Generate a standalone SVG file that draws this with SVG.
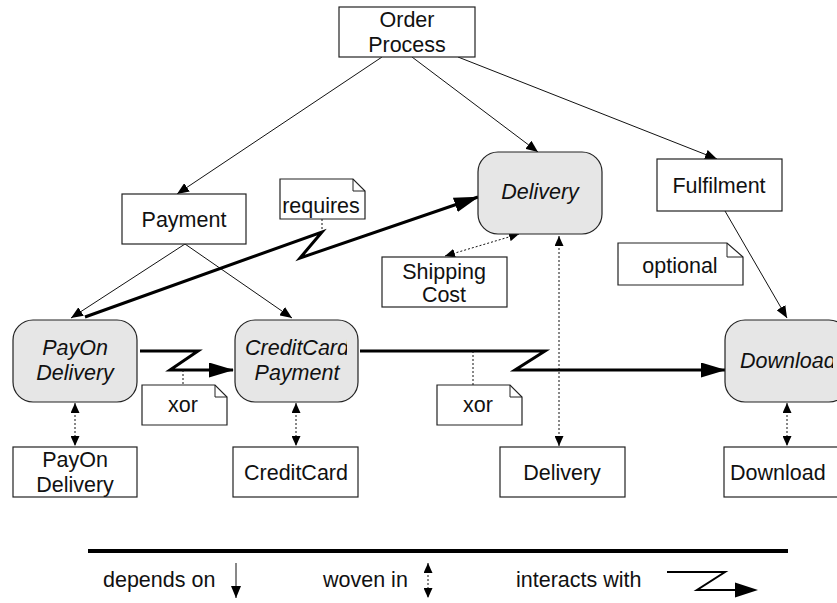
<svg xmlns="http://www.w3.org/2000/svg" width="837" height="603" viewBox="0 0 837 603">
<style>
text{font-family:"Liberation Sans",Arial,sans-serif;font-size:21.5px;fill:#111;text-anchor:middle}
.it{font-style:italic}
.box{fill:#fff;stroke:#222;stroke-width:1.2}
.rbox{fill:#e6e6e6;stroke:#222;stroke-width:1.2}
.note{fill:#fff;stroke:#222;stroke-width:1.2}
.fold{fill:none;stroke:#222;stroke-width:1}
.dep{fill:none;stroke:#111;stroke-width:1;marker-end:url(#mDep)}
.wov{fill:none;stroke:#111;stroke-width:1;stroke-dasharray:2,2;marker-start:url(#mWov);marker-end:url(#mWov)}
.int{fill:none;stroke:#000;stroke-width:3;stroke-linejoin:miter;marker-end:url(#mInt)}
.anc{fill:none;stroke:#111;stroke-width:1;stroke-dasharray:2,2}
</style>
<defs>
<marker id="mDep" markerUnits="userSpaceOnUse" markerWidth="12" markerHeight="10" refX="12" refY="5" orient="auto"><path d="M0,0 L12,5 L0,10 z" fill="#000"/></marker>
<marker id="mWov" markerUnits="userSpaceOnUse" markerWidth="10" markerHeight="9" refX="10" refY="4.5" orient="auto-start-reverse"><path d="M0,0 L10,4.5 L0,9 z" fill="#000"/></marker>
<marker id="mInt" markerUnits="userSpaceOnUse" markerWidth="25" markerHeight="15" refX="24" refY="7.5" orient="auto"><path d="M0,0 L25,7.5 L0,15 z" fill="#000"/></marker>
<clipPath id="ccClip"><rect x="230" y="320" width="117" height="82"/></clipPath>
<clipPath id="dlClip"><rect x="720" y="320" width="113" height="82"/></clipPath>
</defs>

<g id="connectors">
<path class="dep" d="M382,57 L177,194"/>
<path class="dep" d="M412,57 L538,152"/>
<path class="dep" d="M458,57 L717,159"/>
<path class="dep" d="M185,244 L71,318"/>
<path class="dep" d="M185,244 L292,318"/>
<path class="dep" d="M725,211 L787,318"/>
<path class="wov" d="M75,403 L75,446"/>
<path class="wov" d="M296,403 L296,446"/>
<path class="wov" d="M787,403 L787,446"/>
<path class="wov" d="M559,236 L559,446"/>
<path class="wov" d="M445,256 L519,234"/>
<path class="int" d="M85,317 L322,232 L300,258 L478,197"/>
<path class="anc" d="M322,219 L322,232"/>
<path class="int" d="M140,351 L198,351 L170,370 L233,370"/>
<path class="anc" d="M183,370 L183,385"/>
<path class="int" d="M360,351 L545,351 L515,370 L725,370"/>
<path class="anc" d="M473,351 L473,385"/>
</g>

<g id="orderProcess"><rect class="box" x="339" y="7" width="136" height="50"/><text x="407" y="27">Order</text><text x="407" y="52">Process</text></g>
<g id="payment"><rect class="box" x="122" y="194" width="124" height="50"/><text x="184" y="227">Payment</text></g>
<g id="requiresNote"><path class="note" d="M280,179 L353,179 L365,191 L365,219 L280,219 z"/><path class="fold" d="M353,179 L353,191 L365,191"/><text x="321" y="213">requires</text></g>
<g id="deliveryAspect"><rect class="rbox" x="478" y="152" width="124" height="82" rx="20"/><text class="it" x="540" y="199">Delivery</text></g>
<g id="fulfilment"><rect class="box" x="657" y="159" width="125" height="52"/><text x="719" y="193">Fulfilment</text></g>
<g id="optionalNote"><path class="note" d="M618,243 L727,243 L743,257 L743,285 L618,285 z"/><path class="fold" d="M727,243 L727,257 L743,257"/><text x="680" y="273">optional</text></g>
<g id="shippingCost"><rect class="box" x="382" y="257" width="125" height="50"/><text x="444" y="279">Shipping</text><text x="444" y="302">Cost</text></g>
<g id="payOnDeliveryAspect"><rect class="rbox" x="13" y="320" width="124" height="82" rx="20"/><text class="it" x="75" y="355">PayOn</text><text class="it" x="75" y="380">Delivery</text></g>
<g id="creditCardPaymentAspect"><rect class="rbox" x="235" y="320" width="123" height="82" rx="20"/><text class="it" x="245" y="355" style="text-anchor:start" clip-path="url(#ccClip)">CreditCard</text><text class="it" x="297" y="380">Payment</text></g>
<g id="downloadAspect"><rect class="rbox" x="725" y="320" width="124" height="82" rx="20"/><text class="it" x="740" y="368" style="text-anchor:start" clip-path="url(#dlClip)">Download</text></g>
<g id="xorNote1"><path class="note" d="M142,385 L215,385 L227,397 L227,425 L142,425 z"/><path class="fold" d="M215,385 L215,397 L227,397"/><text x="183" y="412">xor</text></g>
<g id="xorNote2"><path class="note" d="M437,385 L510,385 L522,397 L522,425 L437,425 z"/><path class="fold" d="M510,385 L510,397 L522,397"/><text x="478" y="412">xor</text></g>
<g id="payOnDelivery"><rect class="box" x="13" y="447" width="124" height="50"/><text x="75" y="467">PayOn</text><text x="75" y="492">Delivery</text></g>
<g id="creditCard"><rect class="box" x="233" y="447" width="125" height="50"/><text x="296" y="480">CreditCard</text></g>
<g id="delivery"><rect class="box" x="500" y="447" width="125" height="50"/><text x="562" y="480">Delivery</text></g>
<g id="download"><rect class="box" x="724" y="447" width="125" height="50"/><text x="730" y="480" style="text-anchor:start">Download</text></g>

<g id="legend">
<line x1="88" y1="551" x2="788" y2="551" stroke="#000" stroke-width="4"/>
<text x="103" y="587" style="text-anchor:start">depends on</text>
<path class="dep" d="M236,563 L236,598"/>
<text x="323" y="587" style="text-anchor:start">woven in</text>
<path class="wov" d="M428,563 L428,598"/>
<text x="516" y="587" style="text-anchor:start">interacts with</text>
<path d="M667,572 L725,572 L697,590 L740,590" fill="none" stroke="#000" stroke-width="2"/>
<path d="M735,582.5 L758,590 L735,597.5 z" fill="#000"/>
</g>
</svg>
